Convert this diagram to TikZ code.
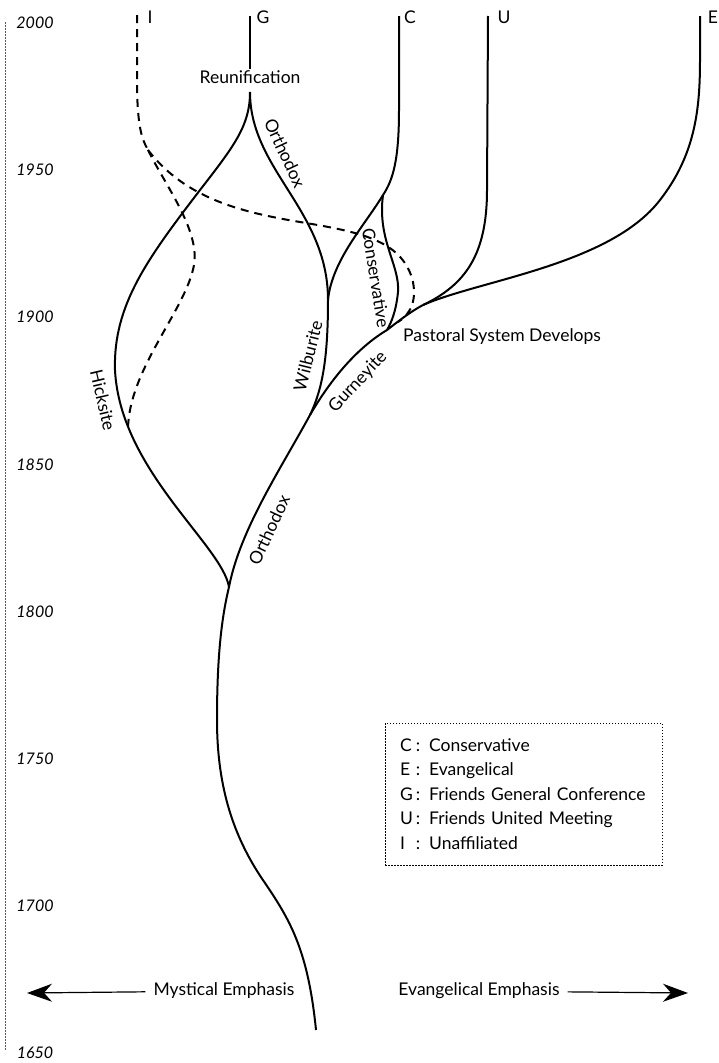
\documentclass[tikz,border=0pt]{standalone}
\usepackage{fontspec}
\setmainfont{Lato}
\usetikzlibrary{arrows.meta}

\begin{document}
\begin{tikzpicture}[x=1pt, y=-1pt,
  branch/.style={line width=2pt},
  unaff/.style={line width=2pt, dash pattern=on 8pt off 6pt},
  lbl/.style={font=\fontsize{17.5}{20}\selectfont, inner sep=1pt},
  yearlbl/.style={font=\fontsize{16}{20}\selectfont\itshape, inner sep=1pt},
  emphlbl/.style={font=\fontsize{17.5}{20}\selectfont, inner xsep=8pt},
  emph/.style={-{Stealth[length=25pt, width=18pt, inset=8pt]}, line width=1.2pt},
  keybox/.style={draw, line width=1pt, dash pattern=on 1.5pt off 1.5pt,
    minimum width=277pt, minimum height=142pt, text width=247pt, align=left,
    font=\fontsize{17.5}{24.5}\selectfont}]
  \useasboundingbox (0,0) rectangle (719,1063);

  % time axis
  \coordinate (axistop) at (5,22);
  \coordinate (axisbot) at (5,1050);
  \draw[gray!70!black, line width=1pt, dash pattern=on 1.5pt off 1.5pt] (axistop) -- (axisbot);
  \foreach \yr [count=\i from 0] in {2000,1950,1900,1850,1800,1750,1700,1650}
    \node[yearlbl] (y\yr) at (35, 23+147.1*\i) {\yr};

  % junctions
  \coordinate (root) at (316,1030);
  \coordinate (split1827) at (229,587);
  \coordinate (split1845) at (310,415);
  \coordinate (wilbjoin) at (328,300);
  \coordinate (pastoral) at (387,330);
  \coordinate (splitUE) at (423,305);
  \coordinate (cfork) at (383,195);
  \coordinate (reunion) at (250,92);
  \coordinate (gtop) at (250,16);
  \coordinate (ctop) at (399,16);
  \coordinate (utop) at (488,16);
  \coordinate (etop) at (700,16);
  \coordinate (itop) at (137,15);
  \coordinate (isplit) at (148,150);
  \coordinate (hickend) at (128,430);
  \coordinate (consend) at (398,322);

  % branch letters
  \node[lbl] (Ilbl) at (150,17) {I};
  \node[lbl] (Glbl) at (263,17) {G};
  \node[lbl] (Clbl) at (410,17) {C};
  \node[lbl] (Ulbl) at (504,17) {U};
  \node[lbl] (Elbl) at (713,17) {E};

  \node[lbl] (reunif) at (250,77) {Reunification};

  % trunk and the 1827 split
  \draw[branch] (root) .. controls (308,950) and (290,920) .. (265,883)
    .. controls (235,840) and (217,790) .. (217,720)
    .. controls (217,660) and (221,620) .. (split1827);
  \draw[branch] (split1827) .. controls (222,545) and (120,470) .. (115,370)
    .. controls (113,305) and (148,258) .. (200,190)
    .. controls (235,145) and (250,125) .. (reunion);
  \draw[branch] (split1827) .. controls (240,530) and (280,470) .. (split1845)
    .. controls (335,372) and (362,345) .. (pastoral)
    .. controls (400,320) and (410,312) .. (splitUE);

  % G, Wilburite and C
  \draw[branch] (gtop) -- (reunif);
  \draw[branch] (reunion) .. controls (250,170) and (328,210) .. (wilbjoin)
    .. controls (328,360) and (322,390) .. (split1845);
  \draw[branch] (ctop) -- (399,110) .. controls (399,160) and (393,180) .. (cfork);
  \draw[branch] (cfork) .. controls (365,225) and (332,260) .. (wilbjoin);
  \draw[branch] (cfork) .. controls (377,240) and (400,265) .. (398,292)
    .. controls (396,312) and (391,323) .. (pastoral);

  % U and E
  \draw[branch] (splitUE) .. controls (465,285) and (487,255) .. (487,190) -- (utop);
  \draw[branch] (splitUE) .. controls (480,280) and (610,265) .. (660,200)
    .. controls (695,155) and (700,110) .. (700,60) -- (etop);

  % unaffiliated
  \draw[unaff] (itop) -- (137,90) .. controls (138,125) and (141,138) .. (isplit);
  \draw[unaff] (isplit) .. controls (165,185) and (200,230) .. (194,265)
    .. controls (186,310) and (128,370) .. (hickend);
  \draw[unaff] (isplit) .. controls (185,198) and (240,212) .. (300,222)
    .. controls (360,232) and (400,240) .. (412,278)
    .. controls (418,300) and (410,315) .. (consend);

  % branch names
  \node[lbl, rotate=-65] (orthoup) at (285,153) {Orthodox};
  \node[lbl, rotate=-81] (conslbl) at (376,278) {Conservative};
  \node[lbl, rotate=76] (wilblbl) at (308,356) {Wilburite};
  \node[lbl, rotate=47] (gurnlbl) at (358,382) {Gurneyite};
  \node[lbl, rotate=-77] (hickslbl) at (103,400) {Hicksite};
  \node[lbl, rotate=65] (ortholow) at (269,530) {Orthodox};
  \node[lbl] (pastlbl) at (502,337) {Pastoral System Develops};

  % key
  \node[keybox] (key) at (523.5,794) {%
    \makebox[16pt][l]{C}: Conservative\\
    \makebox[16pt][l]{E}: Evangelical\\
    \makebox[16pt][l]{G}: Friends General Conference\\
    \makebox[16pt][l]{U}: Friends United Meeting\\
    \makebox[16pt][l]{I}: Unaffiliated};

  % emphasis arrows
  \coordinate (mystend) at (27,993);
  \coordinate (evanend) at (688,993);
  \node[emphlbl] (myst) at (224,991) {Mystical Emphasis};
  \node[emphlbl] (evan) at (479,991) {Evangelical Emphasis};
  \draw[emph] (myst) -- (mystend);
  \draw[emph] (evan) -- (evanend);
\end{tikzpicture}
\end{document}
